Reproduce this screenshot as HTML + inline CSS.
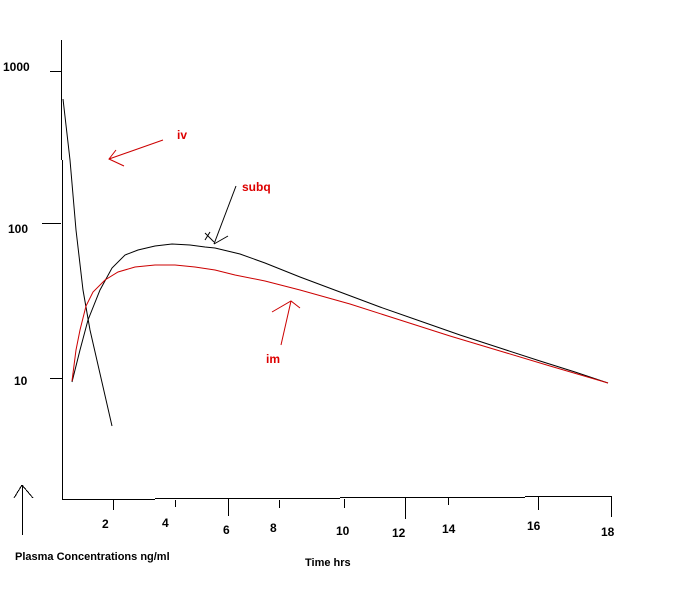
<!DOCTYPE html>
<html><head><style>
html,body{margin:0;padding:0;background:#fff;width:679px;height:598px;overflow:hidden}
svg text{font-family:"Liberation Sans",sans-serif;font-weight:bold;font-size:12px}
</style></head><body>
<svg width="679" height="598" viewBox="0 0 679 598" xmlns="http://www.w3.org/2000/svg" shape-rendering="crispEdges">
<g stroke="#000" stroke-width="1" fill="none">
<line x1="61.5" y1="40" x2="61.5" y2="160"/>
<line x1="62.5" y1="160" x2="62.5" y2="500"/>
<line x1="50" y1="71.5" x2="61" y2="71.5"/>
<line x1="42" y1="223.5" x2="61" y2="223.5"/>
<line x1="50" y1="378.5" x2="63" y2="378.5"/>
<line x1="63" y1="499.5" x2="155" y2="499.5"/>
<line x1="155" y1="498.5" x2="340" y2="498.5"/>
<line x1="340" y1="497.5" x2="525" y2="497.5"/>
<line x1="525" y1="496.5" x2="612" y2="496.5"/>
<line x1="113.5" y1="500" x2="113.5" y2="510"/>
<line x1="175.5" y1="500" x2="175.5" y2="507"/>
<line x1="228.5" y1="499" x2="228.5" y2="516"/>
<line x1="279.5" y1="500" x2="279.5" y2="508"/>
<line x1="344.5" y1="499" x2="344.5" y2="508"/>
<line x1="405.5" y1="498" x2="405.5" y2="519"/>
<line x1="448.5" y1="498" x2="448.5" y2="505"/>
<line x1="538.5" y1="497" x2="538.5" y2="510"/>
<line x1="611.5" y1="497" x2="611.5" y2="517"/>
<line x1="22.5" y1="485" x2="22.5" y2="535"/>
<line x1="22" y1="485" x2="14" y2="498"/>
<line x1="22" y1="485" x2="33" y2="498"/>
</g>
<g fill="none" stroke-width="1" shape-rendering="auto">
<polyline stroke="#000" points="63,99 70,160 76,230 83,290 90,330 112,426"/>
<polyline stroke="#000" points="72,382 80,350 88,320 100,290 112,268 125,255 138,250 155,246 172,244 190,245 205,247 215,248 240,254 265,263 300,277 340,292 380,307 420,321 460,335 500,348 540,361 575,372 608,383"/>
<polyline stroke="#c00" points="72,381 76,350 80,330 86,306 93,292 105,280 118,272 135,267 155,265 175,265 195,267 215,270 235,275 265,281 300,290 350,304 400,320 450,336 500,351 550,366 608,383"/>
<polyline stroke="#c00" points="163,140 109,159"/>
<polyline stroke="#c00" points="116,150 109,159 124,166"/>
<polyline stroke="#000" points="236,186 214,244"/>
<polyline stroke="#000" points="228,236 214,244"/>
<polyline stroke="#000" points="205,233 214,242 M0,0"/>
<line stroke="#000" x1="210" y1="232" x2="205" y2="240"/>
<polyline stroke="#c00" points="281,345 291,301"/>
<polyline stroke="#c00" points="272,312 291,301 300,308"/>
</g>
<g fill="#000">
<text x="3" y="71">1000</text>
<text x="8" y="233">100</text>
<text x="14" y="385">10</text>
<text x="102" y="528">2</text>
<text x="162" y="527">4</text>
<text x="223" y="534">6</text>
<text x="270" y="532">8</text>
<text x="336" y="535">10</text>
<text x="392" y="537">12</text>
<text x="442" y="533">14</text>
<text x="527" y="530">16</text>
<text x="601" y="536">18</text>
<text x="15" y="560" style="font-size:11px">Plasma Concentrations ng/ml</text>
<text x="305" y="566" style="font-size:11px">Time hrs</text>
</g>
<g fill="#d00" style="font-size:11px">
<text x="177" y="139">iv</text>
<text x="242" y="191">subq</text>
<text x="266" y="363">im</text>
</g>
</svg>
</body></html>
